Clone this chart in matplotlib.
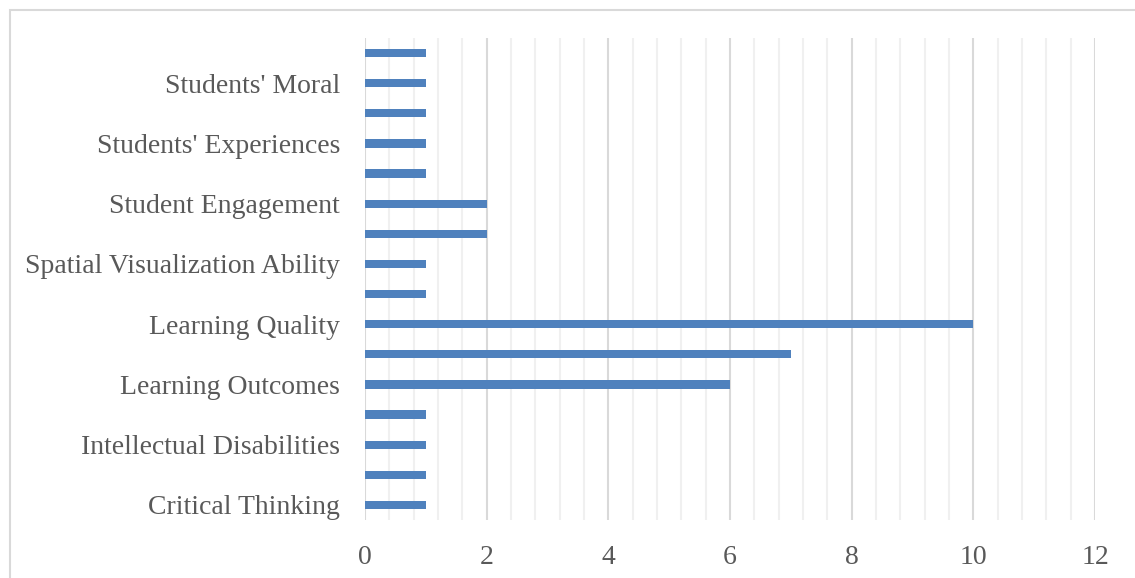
import matplotlib
matplotlib.use('Agg')
import matplotlib.pyplot as plt
from matplotlib.patches import Rectangle
from matplotlib.ticker import MultipleLocator

# Categories from bottom to top; only every other one is labelled on the axis
labels = ['Critical Thinking', '', 'Intellectual Disabilities', '',
          'Learning Outcomes', '', 'Learning Quality', '',
          'Spatial Visualization Ability', '', 'Student Engagement', '',
          "Students' Experiences", '', "Students' Moral", '']
counts = [1, 1, 1, 1, 6, 7, 10, 1, 1, 2, 2, 1, 1, 1, 1, 1]
x_ticks = [0, 2, 4, 6, 8, 10, 12]

plt.rcParams['font.family'] = ['Liberation Serif', 'DejaVu Serif']

fig = plt.figure(figsize=(11.35, 5.78), dpi=100)
ax = fig.add_axes([365 / 1135, 1 - 520 / 578, 730 / 1135, 482 / 578])

# Light frame around the chart area (runs off the right and bottom edges)
fig.patches.append(Rectangle((10 / 1135, -0.1), 1.2, 1 - 10 / 578 + 0.1,
                             transform=fig.transFigure, fill=False,
                             edgecolor='#d9d9d9', linewidth=1.5))

ypos = list(range(len(counts)))
ax.barh(ypos, counts, height=0.27, color='#4f81bd', zorder=3)

ax.set_xlim(0, 12)
ax.set_ylim(-0.5, len(counts) - 0.5)
ax.set_xticks(x_ticks)
ax.xaxis.set_minor_locator(MultipleLocator(0.4))
ax.set_yticks(ypos)
ax.set_yticklabels(labels)

ax.grid(axis='x', which='major', color='#d9d9d9', linewidth=1.5, zorder=0)
ax.grid(axis='x', which='minor', color='#f0f0f0', linewidth=1.5, zorder=0)

for s in ax.spines.values():
    s.set_visible(False)
ax.tick_params(axis='both', which='both', length=0, labelsize=20, colors='#595959')
ax.tick_params(axis='x', pad=18)
ax.tick_params(axis='y', pad=18)

fig.savefig('out.png', dpi=100, facecolor='white')
